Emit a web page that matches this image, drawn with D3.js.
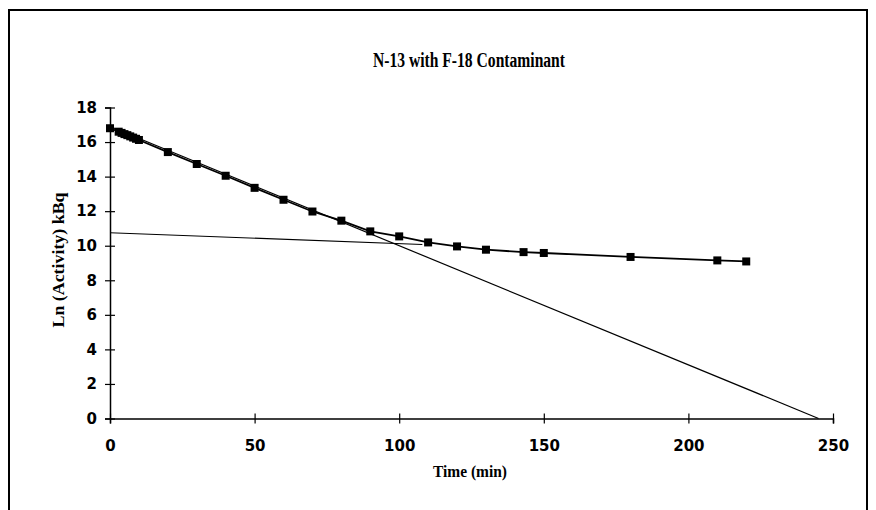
<!DOCTYPE html>
<html>
<head>
<meta charset="utf-8">
<script src="https://cdn.jsdelivr.net/npm/d3@7"></script>
<style>
    body { margin: 0; background: #fff; }
    svg { display: block; }
</style>
</head>
<body>
<div id="chart"></div>
<script>
// measured points, Ln(activity) vs time
var times = [0, 3, 4, 5, 6, 7, 8, 9, 10, 20, 30, 40, 50, 60, 70, 80, 90, 100, 110, 120, 130, 143, 150, 180, 210, 220];
var lnActivity = [16.8, 16.6, 16.53, 16.46, 16.4, 16.33, 16.26, 16.19, 16.12, 15.42, 14.73, 14.05, 13.35, 12.66, 11.98, 11.45, 10.83, 10.54, 10.19, 9.96, 9.77, 9.63, 9.58, 9.35, 9.15, 9.09];

// fitted straight lines (N-13 fast part, F-18 slow part)
var fitN13Times = [0, 245];
var fitN13Values = [16.9, 0];
var fitF18Times = [0, 108];
var fitF18Values = [10.75, 10.07];

var xTicks = [0, 50, 100, 150, 200, 250];
var yTicks = [0, 2, 4, 6, 8, 10, 12, 14, 16, 18];

var width = 876,
    height = 510,
    serif = "'Liberation Serif', 'Times New Roman', serif",
    sans = "'DejaVu Sans', sans-serif";

var svg = d3.select("#chart").append("svg")
    .attr("width", width)
    .attr("height", height);

// outer frame, bottom edge runs off the picture
svg.append("rect")
    .attr("x", 9)
    .attr("y", 10)
    .attr("width", 858)
    .attr("height", 520)
    .attr("fill", "none")
    .attr("stroke", "#000")
    .attr("stroke-width", 2);

var x = d3.scaleLinear().domain([0, 250]).range([110, 833]);
var y = d3.scaleLinear().domain([0, 18]).range([418.5, 107.5]);

// the scanned serif is narrow, so squeeze the text to its measured width
function label(txt, size, len) {
    return svg.append("text")
        .attr("text-anchor", "middle")
        .attr("textLength", len)
        .attr("lengthAdjust", "spacingAndGlyphs")
        .style("font-family", serif)
        .style("font-weight", "bold")
        .style("font-size", size + "px")
        .text(txt);
}

label("N-13 with F-18 Contaminant", 20, 192)
    .attr("x", 469)
    .attr("y", 67);

var xAxis = svg.append("g")
    .attr("transform", "translate(0," + y(0) + ")")
    .call(d3.axisBottom(x).tickValues(xTicks).tickSize(5).tickPadding(17));

var yAxis = svg.append("g")
    .attr("transform", "translate(" + x(0) + ",0)")
    .call(d3.axisLeft(y).tickValues(yTicks).tickSize(5).tickPadding(8));

// ticks cross the axis line
xAxis.selectAll(".tick line").attr("y1", -5).attr("y2", 5);
yAxis.selectAll(".tick line").attr("x1", -5).attr("x2", 5);

[xAxis, yAxis].forEach(function (g) {
    g.select(".domain").attr("stroke", "#000").attr("stroke-width", 1.5);
    g.selectAll(".tick line").attr("stroke", "#000").attr("stroke-width", 1.2);
    g.selectAll(".tick text")
        .attr("fill", "#000")
        .style("font-family", sans)
        .style("font-weight", "bold")
        .style("font-size", "15px");
});

label("Time (min)", 17, 74)
    .attr("x", 470)
    .attr("y", 477);

label("Ln (Activity) kBq", 17, 135)
    .attr("transform", "translate(64,260) rotate(-90)");

var line = d3.line()
    .x(function (d) { return x(d[0]); })
    .y(function (d) { return y(d[1]); });

function pairs(ts, vs) {
    return ts.map(function (t, i) { return [t, vs[i]]; });
}

svg.append("path")
    .datum(pairs(fitN13Times, fitN13Values))
    .attr("d", line)
    .attr("fill", "none")
    .attr("stroke", "#000")
    .attr("stroke-width", 1.2);

svg.append("path")
    .datum(pairs(fitF18Times, fitF18Values))
    .attr("d", line)
    .attr("fill", "none")
    .attr("stroke", "#000")
    .attr("stroke-width", 1.2);

var points = pairs(times, lnActivity);

svg.append("path")
    .datum(points)
    .attr("d", line)
    .attr("fill", "none")
    .attr("stroke", "#000")
    .attr("stroke-width", 1.8);

var size = 8;
svg.selectAll("rect.marker")
    .data(points)
    .enter().append("rect")
    .attr("class", "marker")
    .attr("x", function (d) { return x(d[0]) - size / 2; })
    .attr("y", function (d) { return y(d[1]) - size / 2; })
    .attr("width", size)
    .attr("height", size)
    .attr("fill", "#000");
</script>
</body>
</html>
